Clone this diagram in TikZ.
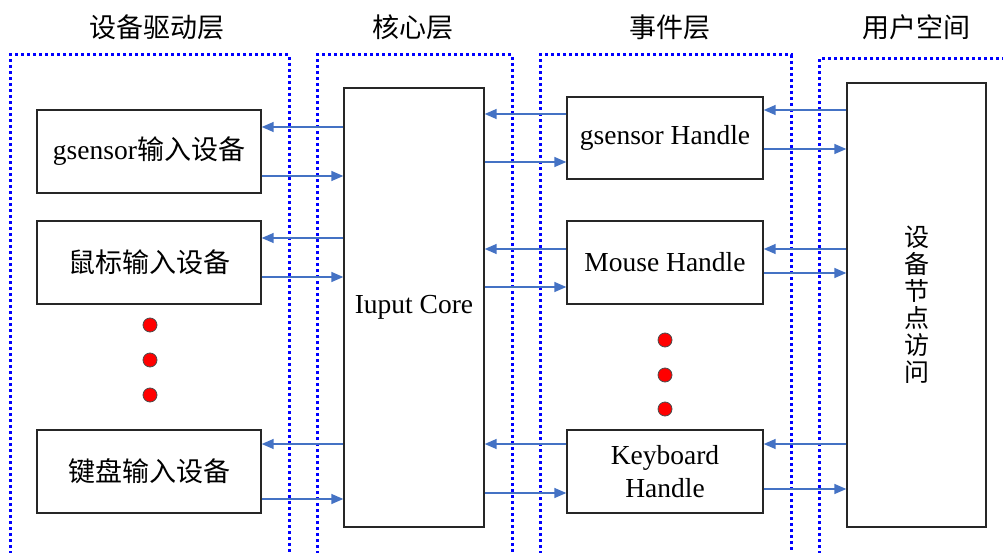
\documentclass[tikz,border=0pt]{standalone}
\usepackage{fontspec}
\setmainfont{Liberation Serif}
\newfontfamily\cjk{Noto Sans CJK SC}
\usetikzlibrary{arrows.meta}
\definecolor{arrowblue}{HTML}{4472C4}
\definecolor{dotred}{HTML}{FF0000}
\tikzset{
  layer/.style={draw=blue, line width=3pt, dash pattern=on 3pt off 3pt},
  block/.style={draw=black!85, line width=1.4pt, fill=white, inner sep=0pt,
    font=\fontsize{27.5}{33}\selectfont, align=center},
  cjkblock/.style={block, font=\cjk\fontsize{27}{32}\selectfont},
  flow/.style={draw=arrowblue, line width=1.5pt,
    -{Triangle[length=12pt,width=10pt]}},
  ellip/.style={circle, draw=black!70, fill=dotred, line width=0.8pt,
    minimum size=14pt, inner sep=0pt},
  title/.style={font=\cjk\fontsize{27}{32}\selectfont}
}
\begin{document}
\begin{tikzpicture}[x=1pt,y=-1pt]
\useasboundingbox (0,0) rectangle (1003,553);

% layer frames, open at the bottom
\draw[layer] (10,560) -- (10,55) -- (289,55) -- (289,560);
\draw[layer] (317,560) -- (317,55) -- (512,55) -- (512,560);
\draw[layer] (540,560) -- (540,55) -- (791,55) -- (791,560);
\draw[layer] (819,560) -- (819,59) -- (1010,59);

% layer titles
\node[title] (t1) at (157,27) {设备驱动层};
\node[title] (t2) at (413,27) {核心层};
\node[title] (t3) at (670,27) {事件层};
\node[title] (t4) at (916,27) {用户空间};

% device drivers
\node[block, minimum width=224pt, minimum height=83pt] (dgs) at (149,151.5) {gsensor{\cjk\fontsize{27}{32}\selectfont 输入设备}};
\node[cjkblock, minimum width=224pt, minimum height=83pt] (dms) at (149,262.5) {鼠标输入设备};
\node[cjkblock, minimum width=224pt, minimum height=83pt] (dkb) at (149,471.5) {键盘输入设备};

% core
\node[block, minimum width=140pt, minimum height=439pt] (core) at (414,307.5) {Iuput Core};

% event handlers
\node[block, minimum width=196pt, minimum height=82pt] (hgs) at (665,138) {gsensor Handle};
\node[block, minimum width=196pt, minimum height=83pt] (hms) at (665,262.5) {Mouse Handle};
\node[block, minimum width=196pt, minimum height=83pt] (hkb) at (665,471.5) {Keyboard\\Handle};

% user space
\node[block, minimum width=139pt, minimum height=444pt, text width=30pt,
  font=\cjk\fontsize{25}{27}\selectfont] (user) at (916.5,305) {设\\备\\节\\点\\访\\问};

% ellipsis dots
\node[ellip] (l1) at (150,325) {};
\node[ellip] (l2) at (150,360) {};
\node[ellip] (l3) at (150,395) {};
\node[ellip] (r1) at (665,340) {};
\node[ellip] (r2) at (665,375) {};
\node[ellip] (r3) at (665,409) {};

% drivers <-> core
\draw[flow] (core.west |- 0,127) -- (dgs.east |- 0,127);
\draw[flow] (dgs.east |- 0,176) -- (core.west |- 0,176);
\draw[flow] (core.west |- 0,238) -- (dms.east |- 0,238);
\draw[flow] (dms.east |- 0,277) -- (core.west |- 0,277);
\draw[flow] (core.west |- 0,444) -- (dkb.east |- 0,444);
\draw[flow] (dkb.east |- 0,499) -- (core.west |- 0,499);

% core <-> handlers
\draw[flow] (hgs.west |- 0,114) -- (core.east |- 0,114);
\draw[flow] (core.east |- 0,162) -- (hgs.west |- 0,162);
\draw[flow] (hms.west |- 0,249) -- (core.east |- 0,249);
\draw[flow] (core.east |- 0,287) -- (hms.west |- 0,287);
\draw[flow] (hkb.west |- 0,444) -- (core.east |- 0,444);
\draw[flow] (core.east |- 0,493) -- (hkb.west |- 0,493);

% handlers <-> user space
\draw[flow] (user.west |- 0,110) -- (hgs.east |- 0,110);
\draw[flow] (hgs.east |- 0,149) -- (user.west |- 0,149);
\draw[flow] (user.west |- 0,249) -- (hms.east |- 0,249);
\draw[flow] (hms.east |- 0,273) -- (user.west |- 0,273);
\draw[flow] (user.west |- 0,444) -- (hkb.east |- 0,444);
\draw[flow] (hkb.east |- 0,489) -- (user.west |- 0,489);
\end{tikzpicture}
\end{document}
